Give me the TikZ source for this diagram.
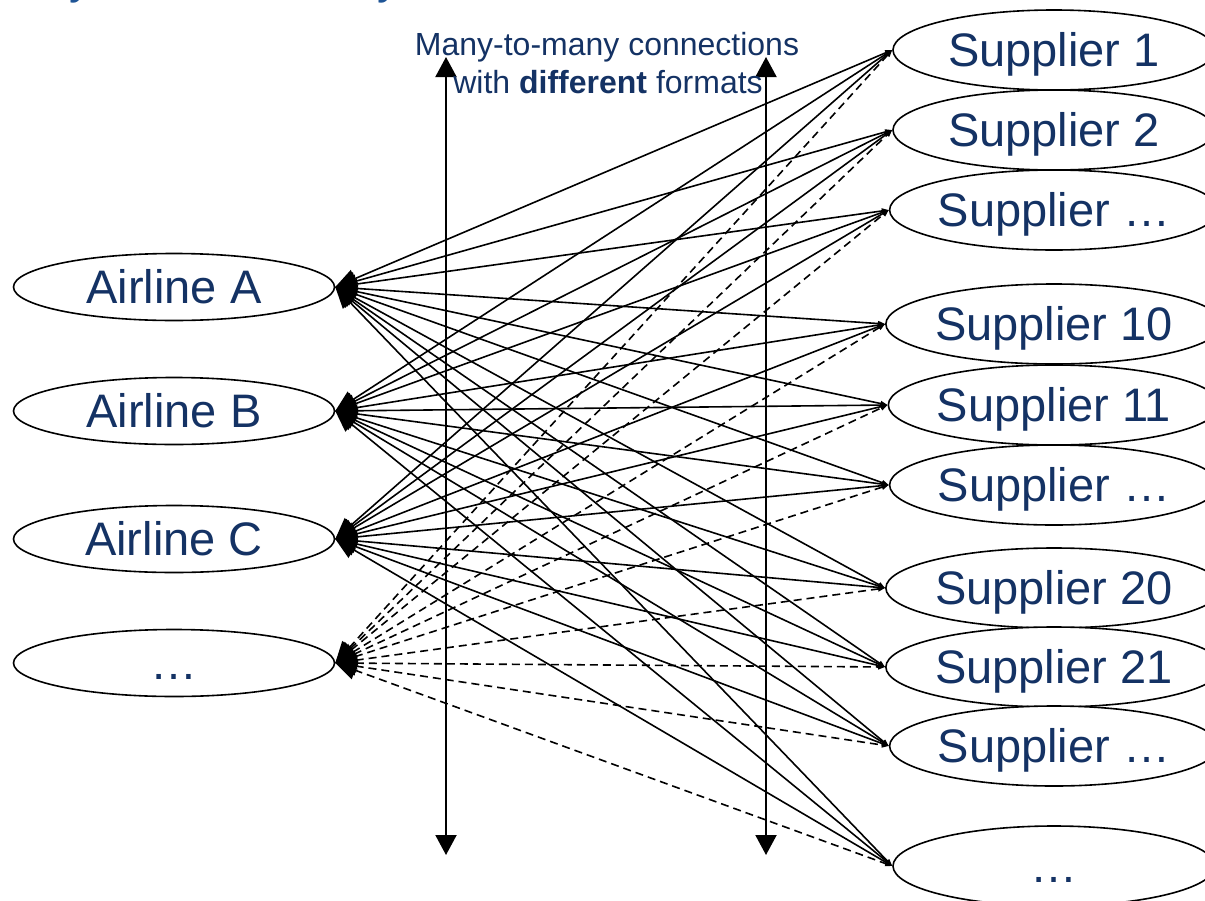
\documentclass[tikz,border=0pt]{standalone}
\usepackage{fontspec}
\setmainfont{Liberation Sans}
\usetikzlibrary{arrows.meta,shapes.geometric}
\definecolor{navy}{RGB}{20,50,100}
\definecolor{titleblue}{RGB}{31,85,150}
\begin{document}
\begin{tikzpicture}[x=1pt,y=-1pt,
  oval/.style={ellipse, draw, line width=1.6pt, fill=white, inner sep=0pt, text=navy,
    font=\fontsize{47}{56}\selectfont, text height=33.6pt, text depth=0pt},
  airline/.style={oval, minimum width=321pt, minimum height=67pt},
  supplier/.style={oval, minimum width=322pt, minimum height=80pt},
  conn/.style={line width=1.6pt, {Triangle[length=21pt,width=19pt]}-{Triangle[length=7pt,width=5pt]}},
  dconn/.style={conn, dash pattern=on 8pt off 5pt},
  vert/.style={line width=2pt, {Triangle[length=20pt,width=21pt]}-{Triangle[length=20pt,width=21pt]}},
  midtext/.style={text=navy, font=\fontsize{32}{38}\selectfont, inner sep=0pt}
]
\useasboundingbox (0,0) rectangle (1205,900);
\clip (0,0) rectangle (1205,900);

% clipped title (only its lower edge is visible)
\node[anchor=base west, text=titleblue, font=\fontsize{46.6}{50}\selectfont, inner sep=0pt] (title) at (-6,-7) {ency of the Industry costs};

% airlines
\node[airline] (A) at (174,287) {Airline A};
\node[airline] (B) at (174,411) {Airline B};
\node[airline] (C) at (174,539) {Airline C};
\node[airline] (D) at (174,663) {…};

% suppliers
\node[supplier] (s1) at (1054,50) {Supplier 1};
\node[supplier] (s2) at (1054,130) {Supplier 2};
\node[supplier] (s3) at (1054,210) {Supplier …};
\node[supplier] (s4) at (1054,324) {Supplier 10};
\node[supplier] (s5) at (1054,405) {Supplier 11};
\node[supplier] (s6) at (1054,485) {Supplier …};
\node[supplier] (s7) at (1054,588) {Supplier 20};
\node[supplier] (s8) at (1054,667) {Supplier 21};
\node[supplier] (s9) at (1054,746) {Supplier …};
\node[supplier] (s10) at (1054,866) {…};

% connections
\foreach \a in {A,B,C}{
  \foreach \s in {s1,s2,s3,s4,s5,s6,s7,s8,s9,s10}{
    \draw[conn] (\a.east) -- (\s.west);
  }
}
\foreach \s in {s1,s2,s3,s4,s5,s6,s7,s8,s9,s10}{
  \draw[dconn] (D.east) -- (\s.west);
}

% vertical double arrows
\coordinate (v1t) at (446,57);
\coordinate (v1b) at (446,855);
\coordinate (v2t) at (766,57);
\coordinate (v2b) at (766,855);
\draw[vert] (v1t) -- (v1b);
\draw[vert] (v2t) -- (v2b);

% label
\node[midtext, anchor=base] (m1) at (607,55) {Many-to-many connections};
\node[midtext, anchor=base] (m2) at (608,93) {with \textbf{different} formats};
\end{tikzpicture}
\end{document}
